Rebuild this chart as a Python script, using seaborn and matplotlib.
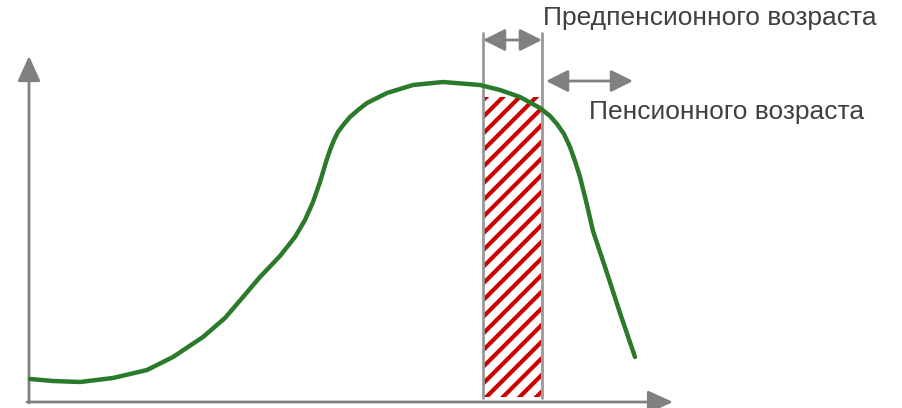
import numpy as np
import pandas as pd
import seaborn as sns
import matplotlib.pyplot as plt

# schematic curve (x to the right, y upward)
curve_x = [30, 53, 80, 113, 147, 173, 203, 225, 243, 260, 280, 295, 305, 313, 320, 326,
           330, 334, 338, 344, 350, 358, 367, 387, 413, 443, 480, 500, 520, 540, 550,
           557, 564, 570, 575, 580, 587, 593, 607, 620, 635]
curve_y = [29, 27, 26, 30, 38, 51, 71, 90, 111, 131, 152, 171, 188, 206, 226, 246,
           258, 268, 276, 284, 291, 298, 305, 315, 323, 326, 323, 318, 311, 300, 292,
           284, 274, 261, 247, 231, 203, 177, 135, 95, 51]

band_left, band_right = 484, 541      # pre-retirement band
band_top = 311
retire_from, retire_to = 546, 633
labels = ["Предпенсионного возраста", "Пенсионного возраста"]

df = pd.DataFrame({"x": curve_x, "y": curve_y})

sns.set_style("white")
plt.rcParams["font.family"] = ["Liberation Sans", "DejaVu Sans"]
plt.rcParams["hatch.linewidth"] = 3.0

fig = plt.figure(figsize=(9.03, 4.08), dpi=100)
ax = fig.add_axes([0, 0, 1, 1])
ax.set_xlim(0, 903)
ax.set_ylim(0, 408)
ax.axis("off")

gray = "#808080"

# axes with arrow heads
head = dict(arrowstyle="-|>,head_length=1.1,head_width=0.5",
            color=gray, lw=2, mutation_scale=14, shrinkA=0, shrinkB=0)
ax.annotate("", xy=(673, 6), xytext=(27, 6), arrowprops=head)
ax.annotate("", xy=(29, 352), xytext=(29, 5), arrowprops=head)

# hatched band
ax.bar((band_left + band_right) / 2, band_top - 11, bottom=11, width=band_right - band_left,
       color="white", edgecolor="#cc0000", hatch="//", linewidth=0, zorder=1)

# band borders
for bx in (band_left - 1, band_right + 1):
    ax.plot([bx, bx], [10, 375], color="#999999", lw=2, zorder=2)

sns.lineplot(data=df, x="x", y="y", color="#2a7a2a", linewidth=3.2, ax=ax,
             sort=False, zorder=3)
ax.set_xlabel("")
ax.set_ylabel("")

# double arrows
dbl = dict(arrowstyle="<|-|>,head_length=0.9,head_width=0.45", color=gray, lw=2,
           mutation_scale=15, shrinkA=0, shrinkB=0)
ax.annotate("", xy=(band_left - 1, 368), xytext=(band_right + 1, 368), arrowprops=dbl)
ax.annotate("", xy=(retire_from, 327), xytext=(retire_to, 327), arrowprops=dbl)

ax.text(710, 390, labels[0], fontsize=19, color="#404040", ha="center", va="center")
ax.text(727, 296, labels[1], fontsize=19, color="#404040", ha="center", va="center")

fig.savefig("out.png", dpi=100)
